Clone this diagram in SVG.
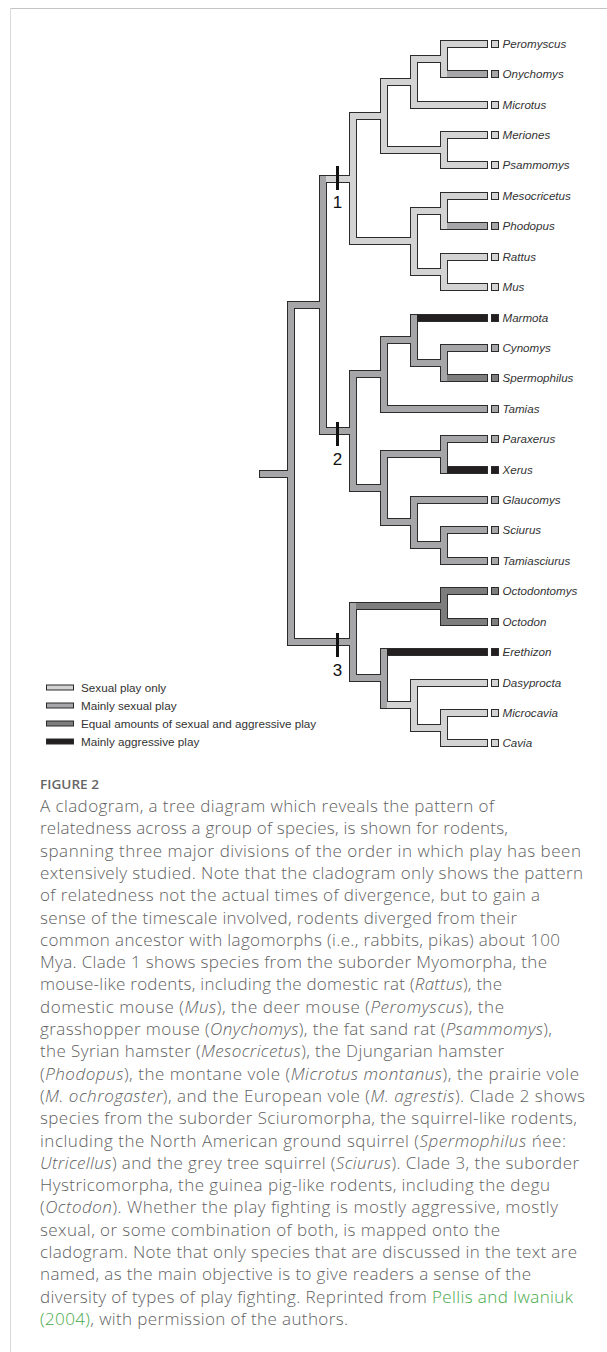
<svg xmlns="http://www.w3.org/2000/svg" width="607" height="1352" viewBox="0 0 607 1352">
<style>
.o{fill:none;stroke:#2b2b2b;stroke-width:8;stroke-linecap:square}
.f{fill:none;stroke-width:6;stroke-linecap:square}
.c1{stroke:#d3d3d4}.c2{stroke:#a6a6a8}.c3{stroke:#7e7d7e}.c4{stroke:#231f20}
.q{stroke:#2b2b2b;stroke-width:1}
.q1{fill:#d3d3d4}.q2{fill:#a6a6a8}.q3{fill:#7e7d7e}.q4{fill:#231f20}
.lab{font-family:'Liberation Sans',Arial,sans-serif;font-style:italic;font-size:11.6px;fill:#333}
.leg{font-family:'Liberation Sans',Arial,sans-serif;font-size:11.7px;fill:#333}
.num{font-family:'Liberation Sans',Arial,sans-serif;font-size:17px;fill:#111;text-anchor:middle}
.cap{font-family:'Open Sans','Noto Sans',sans-serif;font-size:17px;fill:#5f5f5f;font-weight:300}
.i{font-style:italic}
.lnk{fill:#46a949}
.fig{font-family:'Open Sans','Noto Sans',sans-serif;font-size:12.5px;font-weight:600;fill:#666}
</style>
<rect width="607" height="1352" fill="#fff"/>
<g id="frame">
<line x1="10" y1="8.5" x2="607" y2="8.5" stroke="#c4c4c4" stroke-width="1"/>
<line x1="10.5" y1="8" x2="10.5" y2="1352" stroke="#dadada" stroke-width="1"/>
</g>
<g id="connectors">
<path class="o" d="M323 179H353M353 116H384M353 241H414M384 82H414M384 150H444M414 59H444M414 105H484M444 44H484M444 135H484M444 165H484M414 211H444M414 272H444M444 196H484M444 257H484M444 287H484M384 705H414M414 683H484M414 728H444M444 713H484M444 743H484M263 474H291M291 305H323M291 642H353M323 431H353M444 74H484M444 226H484M353 374H384M353 488H384M384 340H414M384 409H484M414 363H444M444 348H484M384 454H444M384 522H414M444 439H484M414 500H484M414 545H444M444 530H484M444 561H484M353 678H384M444 378H484M353 606H444M444 591H484M444 622H484M414 318H484M444 470H484M384 652H484M353 116V241M384 82V150M414 59V105M444 44V74M444 135V165M414 211V272M444 196V226M444 257V287M414 683V728M444 713V743M291 305V642M323 179V431M353 374V488M384 340V409M414 318V363M444 348V378M384 454V522M444 439V470M414 500V545M444 530V561M353 606V678M384 652V705M444 591V622"/>
<path class="f c1" d="M323 179H353M353 116H384M353 241H414M384 82H414M384 150H444M414 59H444M414 105H484M444 44H484M444 135H484M444 165H484M414 211H444M414 272H444M444 196H484M444 257H484M444 287H484M384 705H414M414 683H484M414 728H444M444 713H484M444 743H484"/>
<path class="f c2" d="M263 474H291M291 305H323M291 642H353M323 431H353M444 74H484M444 226H484M353 374H384M353 488H384M384 340H414M384 409H484M414 363H444M444 348H484M384 454H444M384 522H414M444 439H484M414 500H484M414 545H444M444 530H484M444 561H484M353 678H384"/>
<path class="f c3" d="M444 378H484M353 606H444M444 591H484M444 622H484"/>
<path class="f c4" d="M414 318H484M444 470H484M384 652H484"/>
<path class="f c1" d="M353 116V241M384 82V150M414 59V105M444 44V74M444 135V165M414 211V272M444 196V226M444 257V287M414 683V728M444 713V743"/>
<path class="f c2" d="M291 305V642M323 179V431M353 374V488M384 340V409M414 318V363M444 348V378M384 454V522M444 439V470M414 500V545M444 530V561M353 606V678M384 652V705"/>
<path class="f c3" d="M444 591V622"/>
</g>
<g id="clade-marks">
<g id="clade1"><rect x="336" y="166" width="3" height="24" fill="#111"/><text class="num" x="337.5" y="208">1</text></g>
<g id="clade2"><rect x="336" y="422" width="3" height="24" fill="#111"/><text class="num" x="337.5" y="464.5">2</text></g>
<g id="clade3"><rect x="336" y="633" width="3" height="24" fill="#111"/><text class="num" x="337.5" y="676">3</text></g>
</g>
<g id="taxa">
<g id="peromyscus"><rect class="q q1" x="491.5" y="40.5" width="7" height="7"/><text class="lab" x="502.5" y="48">Peromyscus</text></g>
<g id="onychomys"><rect class="q q2" x="491.5" y="70.5" width="7" height="7"/><text class="lab" x="502.5" y="78">Onychomys</text></g>
<g id="microtus"><rect class="q q1" x="491.5" y="101.5" width="7" height="7"/><text class="lab" x="502.5" y="109">Microtus</text></g>
<g id="meriones"><rect class="q q1" x="491.5" y="131.5" width="7" height="7"/><text class="lab" x="502.5" y="139">Meriones</text></g>
<g id="psammomys"><rect class="q q1" x="491.5" y="161.5" width="7" height="7"/><text class="lab" x="502.5" y="169">Psammomys</text></g>
<g id="mesocricetus"><rect class="q q1" x="491.5" y="192.5" width="7" height="7"/><text class="lab" x="502.5" y="200">Mesocricetus</text></g>
<g id="phodopus"><rect class="q q2" x="491.5" y="222.5" width="7" height="7"/><text class="lab" x="502.5" y="230">Phodopus</text></g>
<g id="rattus"><rect class="q q1" x="491.5" y="253.5" width="7" height="7"/><text class="lab" x="502.5" y="261">Rattus</text></g>
<g id="mus"><rect class="q q1" x="491.5" y="283.5" width="7" height="7"/><text class="lab" x="502.5" y="291">Mus</text></g>
<g id="marmota"><rect class="q q4" x="491.5" y="314.5" width="7" height="7"/><text class="lab" x="502.5" y="322">Marmota</text></g>
<g id="cynomys"><rect class="q q2" x="491.5" y="344.5" width="7" height="7"/><text class="lab" x="502.5" y="352">Cynomys</text></g>
<g id="spermophilus"><rect class="q q3" x="491.5" y="374.5" width="7" height="7"/><text class="lab" x="502.5" y="382">Spermophilus</text></g>
<g id="tamias"><rect class="q q2" x="491.5" y="405.5" width="7" height="7"/><text class="lab" x="502.5" y="413">Tamias</text></g>
<g id="paraxerus"><rect class="q q2" x="491.5" y="435.5" width="7" height="7"/><text class="lab" x="502.5" y="443">Paraxerus</text></g>
<g id="xerus"><rect class="q q4" x="491.5" y="466.5" width="7" height="7"/><text class="lab" x="502.5" y="474">Xerus</text></g>
<g id="glaucomys"><rect class="q q2" x="491.5" y="496.5" width="7" height="7"/><text class="lab" x="502.5" y="504">Glaucomys</text></g>
<g id="sciurus"><rect class="q q2" x="491.5" y="526.5" width="7" height="7"/><text class="lab" x="502.5" y="534">Sciurus</text></g>
<g id="tamiasciurus"><rect class="q q2" x="491.5" y="557.5" width="7" height="7"/><text class="lab" x="502.5" y="565">Tamiasciurus</text></g>
<g id="octodontomys"><rect class="q q3" x="491.5" y="587.5" width="7" height="7"/><text class="lab" x="502.5" y="595">Octodontomys</text></g>
<g id="octodon"><rect class="q q3" x="491.5" y="618.5" width="7" height="7"/><text class="lab" x="502.5" y="626">Octodon</text></g>
<g id="erethizon"><rect class="q q4" x="491.5" y="648.5" width="7" height="7"/><text class="lab" x="502.5" y="656">Erethizon</text></g>
<g id="dasyprocta"><rect class="q q1" x="491.5" y="679.5" width="7" height="7"/><text class="lab" x="502.5" y="687">Dasyprocta</text></g>
<g id="microcavia"><rect class="q q1" x="491.5" y="709.5" width="7" height="7"/><text class="lab" x="502.5" y="717">Microcavia</text></g>
<g id="cavia"><rect class="q q1" x="491.5" y="739.5" width="7" height="7"/><text class="lab" x="502.5" y="747">Cavia</text></g>
</g>
<g id="legend">
<g id="leg-sexual"><rect class="q q1" x="46.5" y="685" width="27" height="5"/><text class="leg" x="81" y="691.5">Sexual play only</text></g>
<g id="leg-mainly-sexual"><rect class="q q2" x="46.5" y="703" width="27" height="5"/><text class="leg" x="81" y="709.5">Mainly sexual play</text></g>
<g id="leg-equal"><rect class="q q3" x="46.5" y="721" width="27" height="5"/><text class="leg" x="81" y="727.5">Equal amounts of sexual and aggressive play</text></g>
<g id="leg-aggressive"><rect class="q q4" x="46.5" y="739" width="27" height="5"/><text class="leg" x="81" y="745.5">Mainly aggressive play</text></g>
</g>
<g id="caption">
<text class="fig" x="40" y="789" textLength="59" lengthAdjust="spacingAndGlyphs">FIGURE 2</text>
<text class="cap" x="40" y="812" textLength="454" lengthAdjust="spacing">A cladogram, a tree diagram which reveals the pattern of</text>
<text class="cap" x="40" y="834.3" textLength="468" lengthAdjust="spacing">relatedness across a group of species, is shown for rodents,</text>
<text class="cap" x="40" y="856.6" textLength="541" lengthAdjust="spacing">spanning three major divisions of the order in which play has been</text>
<text class="cap" x="40" y="878.9" textLength="543" lengthAdjust="spacing">extensively studied. Note that the cladogram only shows the pattern</text>
<text class="cap" x="40" y="901.2" textLength="500" lengthAdjust="spacing">of relatedness not the actual times of divergence, but to gain a</text>
<text class="cap" x="40" y="923.5" textLength="477" lengthAdjust="spacing">sense of the timescale involved, rodents diverged from their</text>
<text class="cap" x="40" y="945.8" textLength="520" lengthAdjust="spacing">common ancestor with lagomorphs (i.e., rabbits, pikas) about 100</text>
<text class="cap" x="40" y="968.1" textLength="507" lengthAdjust="spacing">Mya. Clade 1 shows species from the suborder Myomorpha, the</text>
<text class="cap" x="40" y="990.4" textLength="462" lengthAdjust="spacing">mouse-like rodents, including the domestic rat (<tspan class="i">Rattus</tspan>), the</text>
<text class="cap" x="40" y="1012.7" textLength="464" lengthAdjust="spacing">domestic mouse (<tspan class="i">Mus</tspan>), the deer mouse (<tspan class="i">Peromyscus</tspan>), the</text>
<text class="cap" x="40" y="1035" textLength="512" lengthAdjust="spacing">grasshopper mouse (<tspan class="i">Onychomys</tspan>), the fat sand rat (<tspan class="i">Psammomys</tspan>),</text>
<text class="cap" x="40" y="1057.3" textLength="464" lengthAdjust="spacing">the Syrian hamster (<tspan class="i">Mesocricetus</tspan>), the Djungarian hamster</text>
<text class="cap" x="40" y="1079.6" textLength="539" lengthAdjust="spacing">(<tspan class="i">Phodopus</tspan>), the montane vole (<tspan class="i">Microtus montanus</tspan>), the prairie vole</text>
<text class="cap" x="40" y="1101.9" textLength="545" lengthAdjust="spacing">(<tspan class="i">M. ochrogaster</tspan>), and the European vole (<tspan class="i">M. agrestis</tspan>). Clade 2 shows</text>
<text class="cap" x="40" y="1124.2" textLength="537" lengthAdjust="spacing">species from the suborder Sciuromorpha, the squirrel-like rodents,</text>
<text class="cap" x="40" y="1146.5" textLength="526" lengthAdjust="spacing">including the North American ground squirrel (<tspan class="i">Spermophilus</tspan> ńee:</text>
<text class="cap" x="40" y="1168.8" textLength="539" lengthAdjust="spacing"><tspan class="i">Utricellus</tspan>) and the grey tree squirrel (<tspan class="i">Sciurus</tspan>). Clade 3, the suborder</text>
<text class="cap" x="40" y="1191.1" textLength="510" lengthAdjust="spacing">Hystricomorpha, the guinea pig-like rodents, including the degu</text>
<text class="cap" x="40" y="1213.4" textLength="518" lengthAdjust="spacing">(<tspan class="i">Octodon</tspan>). Whether the play fighting is mostly aggressive, mostly</text>
<text class="cap" x="40" y="1235.7" textLength="460" lengthAdjust="spacing">sexual, or some combination of both, is mapped onto the</text>
<text class="cap" x="40" y="1258" textLength="537" lengthAdjust="spacing">cladogram. Note that only species that are discussed in the text are</text>
<text class="cap" x="40" y="1280.3" textLength="491" lengthAdjust="spacing">named, as the main objective is to give readers a sense of the</text>
<text class="cap" x="40" y="1302.6" textLength="533" lengthAdjust="spacing">diversity of types of play fighting. Reprinted from <tspan class="lnk">Pellis and Iwaniuk</tspan></text>
<text class="cap" x="40" y="1324.9" textLength="308" lengthAdjust="spacing"><tspan class="lnk">(2004)</tspan>, with permission of the authors.</text>
</g>
</svg>
